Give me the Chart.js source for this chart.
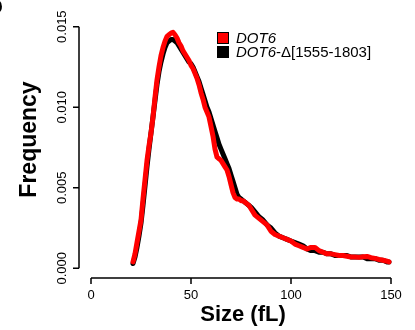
<!DOCTYPE html>
<html>
<head>
<meta charset="utf-8">
<script src="https://cdn.jsdelivr.net/npm/chart.js@4.4.1/dist/chart.umd.min.js"></script>
<style>
  html, body { margin: 0; padding: 0; background: #fff; }
</style>
</head>
<body>
<canvas id="chart1" width="415" height="330"></canvas>
<script>
// cell size (fL) and frequency for the two strains
const sizes = [21, 22, 23, 24, 25, 26, 27, 28, 29, 30, 31, 32, 33, 34, 35, 36, 37, 38, 39, 40,
  41, 42, 43, 44, 45, 46, 47, 48, 49, 50, 51, 52, 53, 54, 55, 56, 57, 58, 59, 60,
  61, 62, 63, 64, 65, 66, 67, 68, 69, 70, 71, 72, 73, 74, 75, 76, 77, 78, 79, 80,
  82, 84, 86, 88, 90, 92, 94, 96, 98, 100, 102, 104, 106, 108, 110, 112, 114, 116, 118, 120,
  122, 124, 126, 128, 130, 132, 134, 136, 138, 140, 142, 144, 146, 148, 149];

const dot6 = [0.0004, 0.0009, 0.0016, 0.0023, 0.0030, 0.0043, 0.0055, 0.0067, 0.0076, 0.0084,
  0.0094, 0.0106, 0.0117, 0.0125, 0.0132, 0.0137, 0.0141, 0.0144, 0.0145, 0.0146,
  0.01465, 0.0145, 0.0143, 0.0140, 0.0138, 0.0135, 0.0133, 0.0131, 0.0129, 0.0126,
  0.0124, 0.0121, 0.0118, 0.0114, 0.0109, 0.0105, 0.0100, 0.0097, 0.0094, 0.0088,
  0.0082, 0.0074, 0.0069, 0.0068, 0.0067, 0.0065, 0.0063, 0.0061, 0.0057, 0.0052,
  0.0047, 0.0044, 0.0043, 0.0043, 0.0042, 0.0042, 0.0041, 0.0040, 0.0039, 0.0037,
  0.0033, 0.0031, 0.0029, 0.0027, 0.0023, 0.0021, 0.0020, 0.0019, 0.0018, 0.0017,
  0.0015, 0.0014, 0.0013, 0.0012, 0.0013, 0.0013, 0.0011, 0.0010, 0.0009, 0.0009,
  0.00085, 0.0008, 0.0008, 0.00075, 0.0007, 0.0007, 0.00068, 0.00072, 0.00074, 0.00066,
  0.00062, 0.00055, 0.0005, 0.00044, 0.0004];

const dot6Del = [0.0003, 0.0007, 0.0013, 0.0020, 0.0028, 0.0039, 0.0051, 0.0063, 0.0074, 0.0084,
  0.0094, 0.0104, 0.0114, 0.0122, 0.0128, 0.0133, 0.0137, 0.0140, 0.0141, 0.0142,
  0.0142, 0.0141, 0.0140, 0.0138, 0.0136, 0.0134, 0.0132, 0.0130, 0.0128, 0.0127,
  0.0125, 0.0122, 0.0119, 0.0116, 0.0112, 0.0108, 0.0104, 0.0100, 0.0097, 0.0093,
  0.0089, 0.0085, 0.0081, 0.0077, 0.0074, 0.0071, 0.0068, 0.0065, 0.0062, 0.0058,
  0.0054, 0.0050, 0.0046, 0.0044, 0.0043, 0.0042, 0.0041, 0.0040, 0.0039, 0.0038,
  0.0035, 0.0032, 0.0030, 0.0027, 0.0025, 0.0022, 0.0020, 0.0019, 0.0018, 0.0017,
  0.0016, 0.0015, 0.0014, 0.0012, 0.0011, 0.0011, 0.0010, 0.0010, 0.0009, 0.0009,
  0.0008, 0.0008, 0.0008, 0.0008, 0.0007, 0.0007, 0.0007, 0.0007, 0.0006, 0.0006,
  0.0006, 0.0005, 0.0005, 0.0004, 0.0004];

const xTicks = [0, 50, 100, 150];
const yTicks = [0, 0.005, 0.010, 0.015];
const yTickLabels = ["0.000", "0.005", "0.010", "0.015"];
const seriesNames = ["DOT6", "DOT6-\u0394[1555-1803]"];
const seriesColors = ["#ff0000", "#000000"];

const FONT = '"Liberation Sans", Arial, Helvetica, sans-serif';

// base-graphics style axes, legend and titles
const rAxes = {
  id: "rAxes",
  afterDraw(chart) {
    const ctx = chart.ctx;
    const xs = chart.scales.x;
    const ys = chart.scales.y;
    const area = chart.chartArea;
    ctx.save();
    ctx.strokeStyle = "#000";
    ctx.fillStyle = "#000";
    ctx.lineWidth = 1.5;
    ctx.lineCap = "butt";

    // x axis
    const xb = area.bottom;
    ctx.beginPath();
    ctx.moveTo(xs.getPixelForValue(xTicks[0]), xb);
    ctx.lineTo(xs.getPixelForValue(xTicks[xTicks.length - 1]), xb);
    xTicks.forEach(v => {
      const px = xs.getPixelForValue(v);
      ctx.moveTo(px, xb);
      ctx.lineTo(px, xb + 6);
    });
    ctx.stroke();
    ctx.font = "13px " + FONT;
    ctx.textAlign = "center";
    ctx.textBaseline = "middle";
    xTicks.forEach(v => ctx.fillText(String(v), xs.getPixelForValue(v), xb + 17));

    // y axis
    const yl = area.left;
    ctx.beginPath();
    ctx.moveTo(yl, ys.getPixelForValue(yTicks[0]));
    ctx.lineTo(yl, ys.getPixelForValue(yTicks[yTicks.length - 1]));
    yTicks.forEach(v => {
      const py = ys.getPixelForValue(v);
      ctx.moveTo(yl, py);
      ctx.lineTo(yl - 6, py);
    });
    ctx.stroke();
    yTicks.forEach((v, i) => {
      ctx.save();
      ctx.translate(yl - 17, ys.getPixelForValue(v));
      ctx.rotate(-Math.PI / 2);
      ctx.fillText(yTickLabels[i], 0, 0);
      ctx.restore();
    });

    // axis titles
    ctx.font = "bold 22px " + FONT;
    ctx.fillText("Size (fL)", (area.left + area.right) / 2 + 2, xb + 37);
    ctx.save();
    ctx.translate(30, (area.top + area.bottom) / 2 - 8);
    ctx.rotate(-Math.PI / 2);
    ctx.font = "bold 23px " + FONT;
    ctx.fillText("Frequency", 0, 0);
    ctx.restore();

    // legend
    const lx = 217, ly = [38, 52];
    ctx.textAlign = "left";
    seriesNames.forEach((name, i) => {
      ctx.fillStyle = seriesColors[i];
      ctx.fillRect(lx, ly[i] - 6, 12, 12);
      ctx.strokeStyle = "#000";
      ctx.lineWidth = 1;
      ctx.strokeRect(lx + 0.5, ly[i] - 5.5, 11, 11);
      ctx.fillStyle = "#000";
      ctx.font = "italic 15px " + FONT;
      const head = "DOT6";
      ctx.fillText(head, lx + 19, ly[i] + 1);
      const w = ctx.measureText(head).width;
      ctx.font = "15px " + FONT;
      ctx.fillText(name.slice(head.length), lx + 19 + w, ly[i] + 1);
    });

    // panel letter cut at the corner
    ctx.font = "bold 22px " + FONT;
    ctx.textAlign = "right";
    ctx.fillText("D", 3, 8);
    ctx.restore();
  }
};

const ctx1 = document.getElementById("chart1").getContext("2d");

const chart1 = new Chart(ctx1, {
  type: "line",
  data: {
    datasets: [
      {
        label: seriesNames[0],
        data: sizes.map((s, i) => ({ x: s, y: dot6[i] })),
        borderColor: seriesColors[0],
        borderWidth: 5,
      },
      {
        label: seriesNames[1],
        data: sizes.map((s, i) => ({ x: s, y: dot6Del[i] })),
        borderColor: seriesColors[1],
        borderWidth: 5,
      },
    ],
  },
  options: {
    responsive: false,
    animation: false,
    devicePixelRatio: 1,
    layout: { padding: { left: 79, right: 12, top: 17, bottom: 52 } },
    elements: {
      point: { radius: 0 },
      line: { tension: 0, borderCapStyle: "round", borderJoinStyle: "round" },
    },
    scales: {
      x: { type: "linear", min: -6, max: 156, display: false },
      y: { min: -0.0006, max: 0.0156, display: false },
    },
    plugins: {
      legend: { display: false },
      tooltip: { enabled: false },
    },
  },
  plugins: [rAxes],
});
</script>
</body>
</html>
